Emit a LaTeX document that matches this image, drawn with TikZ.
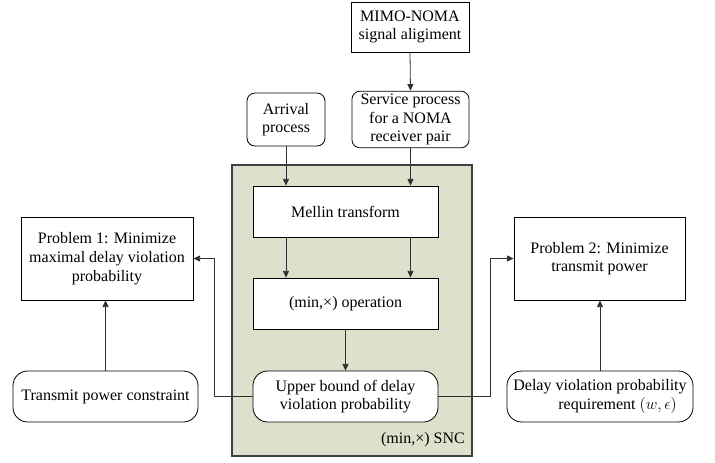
\documentclass[tikz,border=0pt]{standalone}
\usepackage{fontspec}
\setmainfont{Liberation Serif}
\usepackage{tikz}
\usetikzlibrary{arrows.meta, positioning}
\definecolor{sncGreen}{HTML}{DCE1CB}
\definecolor{lineGray}{HTML}{303030}
\tikzset{
  plainbox/.style={
    draw, fill=white, line width=0.6pt,
    align=center, font=\rmfamily\fontsize{12}{14}\selectfont, inner sep=2pt
  },
  softbox/.style={
    plainbox, rounded corners=#1
  },
  arr/.style={-{Triangle[length=5pt, width=4.5pt]}, lineGray, line width=0.6pt}
}

\begin{document}
\begin{tikzpicture}[x=0.75pt, y=-0.75pt,
  sncarea/.style={draw=black!75, fill=sncGreen, line width=0.8pt,
    minimum width=180pt, minimum height=218.25pt}
]
\useasboundingbox (0,0) rectangle (715,462);

% SNC block
\node[sncarea] (snc) at (352,310.5) {};
\node[font=\rmfamily\fontsize{12}{14}\selectfont] (snclabel) at (423,440) {(min,×) SNC};

% Inputs
\node[plainbox, minimum width=88.5pt, minimum height=37.5pt] (sig) at (410,27) {MIMO-NOMA\\signal aligiment};
\node[softbox=6pt, minimum width=87.75pt, minimum height=39.75pt] (serv) at (410.5,119.5) {Service process\\for a NOMA\\receiver pair};
\node[softbox=6pt, minimum width=58.5pt, minimum height=39.75pt] (arv) at (286,119.5) {Arrival\\process};

% SNC steps
\node[plainbox, minimum width=138.75pt, minimum height=38.25pt] (mellin) at (345.5,211.5) {Mellin transform};
\node[plainbox, minimum width=138.75pt, minimum height=38.25pt] (minop) at (345.5,303.5) {(min,×) operation};
\node[softbox=11pt, minimum width=138.75pt, minimum height=38.25pt] (upper) at (345.5,396.5) {Upper bound of delay\\violation probability};

% Problems
\node[plainbox, minimum width=129pt, minimum height=62.25pt] (prob1) at (107,258.5) {Problem 1: Minimize\\maximal delay violation\\probability};
\node[plainbox, minimum width=128.25pt, minimum height=62.25pt] (prob2) at (599.5,258.5) {Problem 2: Minimize\\transmit power};
\node[softbox=11pt, minimum width=138.75pt, minimum height=38.25pt] (tpc) at (105.5,396.5) {Transmit power constraint};
\node[softbox=11pt, minimum width=139.5pt, minimum height=38.25pt] (dvp) at (600,396.5) {Delay violation probability\\\hspace*{2.2em}requirement $(w,\epsilon)$};

% Connectors
\draw[arr] (sig.south) -- (serv.north);
\draw[arr] (arv.south) -- (arv.south |- mellin.north);
\draw[arr] (serv.south) -- (serv.south |- mellin.north);
\draw[arr] (arv.south |- mellin.south) -- (arv.south |- minop.north);
\draw[arr] (serv.south |- mellin.south) -- (serv.south |- minop.north);
\draw[arr] (minop.south) -- (upper.north);
\draw[arr] (upper.west) -- ++(-38,0) |- (prob1.east);
\draw[arr] (upper.east) -- ++(52,0) |- (prob2.west);
\draw[arr] (tpc.north) -- (tpc.north |- prob1.south);
\draw[arr] (dvp.north) -- (dvp.north |- prob2.south);

\end{tikzpicture}
\end{document}
